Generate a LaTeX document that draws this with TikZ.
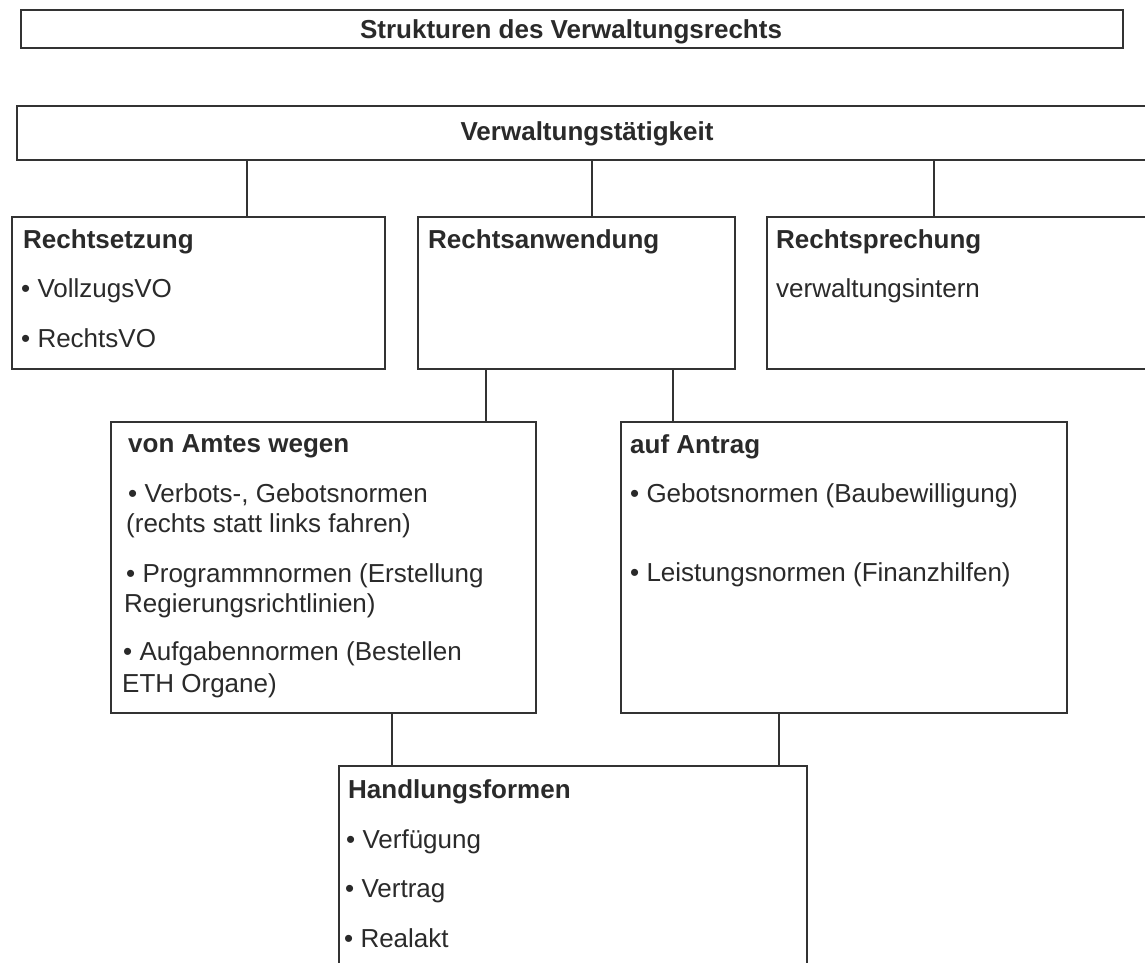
\documentclass[tikz,border=0pt]{standalone}
\usepackage{fontspec}
\setmainfont{Liberation Sans}
\definecolor{ink}{HTML}{2A2A2A}
\definecolor{edge}{HTML}{333333}
\tikzset{
  box/.style={draw=edge, line width=1.7pt, rectangle, inner sep=0pt, anchor=north west},
  conn/.style={draw=edge, line width=1.4pt},
  txt/.style={inner sep=0pt, anchor=base west, text=ink, font=\fontsize{26}{30}\selectfont},
  hd/.style={txt, font=\fontsize{26}{30}\selectfont\bfseries},
}
\begin{document}
\begin{tikzpicture}[x=1pt,y=-1pt]
\useasboundingbox (0,0) rectangle (1145,962);
\clip (0,0) rectangle (1145,962);
\fill[white] (0,0) rectangle (1145,962);

% boxes
\node[box, minimum width=1102pt, minimum height=38pt] (title) at (20,9) {};
\node[box, minimum width=1144pt, minimum height=54pt] (verw) at (16,105) {};
\node[box, minimum width=373pt, minimum height=152pt] (rs) at (11,216) {};
\node[box, minimum width=317pt, minimum height=152pt] (ra) at (417,216) {};
\node[box, minimum width=394pt, minimum height=152pt] (rp) at (766,216) {};
\node[box, minimum width=425pt, minimum height=291pt] (amt) at (110,421) {};
\node[box, minimum width=446pt, minimum height=291pt] (ant) at (620,421) {};
\node[box, minimum width=468pt, minimum height=215pt] (hf) at (338,765) {};

% texts
\node[hd, anchor=base] (title-t) at (571,38) {Strukturen des Verwaltungsrechts};
\node[hd, anchor=base] (verw-t) at (587,140) {Verwaltungstätigkeit};

\node[hd] (rs-h) at (23,248) {Rechtsetzung};
\node[txt] (rs-1) at (21,297) {• VollzugsVO};
\node[txt] (rs-2) at (21,347) {• RechtsVO};

\node[hd] (ra-h) at (428,248) {Rechtsanwendung};

\node[hd] (rp-h) at (776,248) {Rechtsprechung};
\node[txt] (rp-1) at (776,297) {verwaltungsintern};

\node[hd] (amt-h) at (128,452) {von Amtes wegen};
\node[txt] (amt-1) at (128,502) {• Verbots-, Gebotsnormen};
\node[txt] (amt-2) at (126,532) {(rechts statt links fahren)};
\node[txt] (amt-3) at (126,582) {• Programmnormen (Erstellung};
\node[txt] (amt-4) at (124,612) {Regierungsrichtlinien)};
\node[txt] (amt-5) at (123,660) {• Aufgabennormen (Bestellen};
\node[txt] (amt-6) at (122,692) {ETH Organe)};

\node[hd] (ant-h) at (630,453) {auf Antrag};
\node[txt] (ant-1) at (630,502) {• Gebotsnormen (Baubewilligung)};
\node[txt] (ant-2) at (630,581) {• Leistungsnormen (Finanzhilfen)};

\node[hd] (hf-h) at (348,798) {Handlungsformen};
\node[txt] (hf-1) at (346,848) {• Verfügung};
\node[txt] (hf-2) at (345,897) {• Vertrag};
\node[txt] (hf-3) at (344,947) {• Realakt};

% connector x positions
\coordinate (c1) at (247,0);
\coordinate (c2) at (592,0);
\coordinate (c3) at (934,0);
\coordinate (c4) at (486,0);
\coordinate (c5) at (673,0);
\coordinate (c6) at (392,0);
\coordinate (c7) at (779,0);

\draw[conn] (verw.south -| c1) -- (rs.north -| c1);
\draw[conn] (verw.south -| c2) -- (ra.north -| c2);
\draw[conn] (verw.south -| c3) -- (rp.north -| c3);
\draw[conn] (ra.south -| c4) -- (amt.north -| c4);
\draw[conn] (ra.south -| c5) -- (ant.north -| c5);
\draw[conn] (amt.south -| c6) -- (hf.north -| c6);
\draw[conn] (ant.south -| c7) -- (hf.north -| c7);
\end{tikzpicture}
\end{document}
